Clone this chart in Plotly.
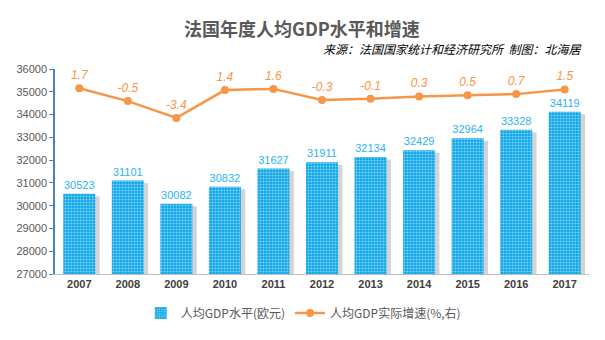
import plotly.graph_objects as go

years = ["2007", "2008", "2009", "2010", "2011", "2012", "2013", "2014", "2015", "2016", "2017"]
gdp_per_capita = [30523, 31101, 30082, 30832, 31627, 31911, 32134, 32429, 32964, 33328, 34119]
growth = [1.7, -0.5, -3.4, 1.4, 1.6, -0.3, -0.1, 0.3, 0.5, 0.7, 1.5]

BAR_W = 0.66
font_fam = "Liberation Sans, Arial, Noto Sans CJK SC"
cjk = "Noto Sans CJK SC, Liberation Sans"

fig = go.Figure()

# soft shadow behind bars
fig.add_trace(go.Bar(
    x=years, y=[v - 110 for v in gdp_per_capita], width=BAR_W, offset=-BAR_W / 2 + 0.09,
    marker=dict(color="rgba(0,0,0,0.17)", line=dict(width=0)),
    showlegend=False, hoverinfo="skip", yaxis="y",
))

fig.add_trace(go.Bar(
    x=years, y=gdp_per_capita, width=BAR_W, offset=-BAR_W / 2,
    name="人均GDP水平(欧元)",
    marker=dict(color="#0AA5E8", line=dict(width=0),
                pattern=dict(shape=".", fillmode="overlay", fgcolor="white", size=3, solidity=0.4)),
    text=[str(v) for v in gdp_per_capita], textposition="outside",
    textfont=dict(color="#2AB4F0", size=11, family=font_fam),
    cliponaxis=False, yaxis="y",
))

fig.add_trace(go.Scatter(
    x=years, y=growth, mode="lines+markers+text", name="人均GDP实际增速(%,右)",
    line=dict(color="#F79646", width=2.5),
    marker=dict(color="#F79646", size=8),
    text=[f"<i>{v}</i>" for v in growth], textposition="top center",
    textfont=dict(color="#F79646", size=12, family=font_fam),
    yaxis="y2", cliponaxis=False,
))

fig.update_layout(
    width=605, height=340,
    margin=dict(l=55, r=16, t=69, b=59),
    paper_bgcolor="white", plot_bgcolor="white",
    barmode="overlay",
    font=dict(family=cjk, color="#595959"),
    showlegend=True,
    legend=dict(orientation="h", x=0.465, xanchor="center", y=-0.19, yanchor="middle",
                font=dict(size=12, color="#595959", family=cjk), traceorder="normal",
                itemwidth=30),
    xaxis=dict(type="category", range=[-0.5, 10.5], showline=True, linecolor="#BFBFBF", linewidth=1,
               ticks="", showgrid=False,
               tickvals=years, ticktext=[f"<b>{y}</b>" for y in years],
               tickfont=dict(size=11, color="#404040", family=font_fam)),
    yaxis=dict(range=[27000, 36000], dtick=1000, tickformat="d", showgrid=False, zeroline=False,
               showline=True, linecolor="#4F81BD", linewidth=1.5,
               ticks="outside", ticklen=4, tickcolor="#4F81BD",
               tickfont=dict(size=11, color="#595959", family=font_fam)),
    yaxis2=dict(range=[-30.3, 5.03], overlaying="y", side="right", visible=False),
)

plot_w = 605 - 55 - 16
plot_h = 340 - 69 - 59
def px_to_paper(px, py):
    return (px - 55) / plot_w, (340 - 59 - py) / plot_h

tx, ty = px_to_paper(302, 27)
sx, sy = px_to_paper(583, 48)
fig.add_annotation(text="<b>法国年度人均GDP水平和增速</b>", x=tx, y=ty, xref="paper", yref="paper",
                   xanchor="center", yanchor="middle", showarrow=False,
                   font=dict(size=18, color="#595959", family=cjk))
fig.add_annotation(text="<i>来源：法国国家统计和经济研究所  制图：北海居</i>", x=sx, y=sy,
                   xref="paper", yref="paper", xanchor="right", yanchor="middle", showarrow=False,
                   font=dict(size=12, color="#000000", family=cjk))

fig.write_html("out.html")
